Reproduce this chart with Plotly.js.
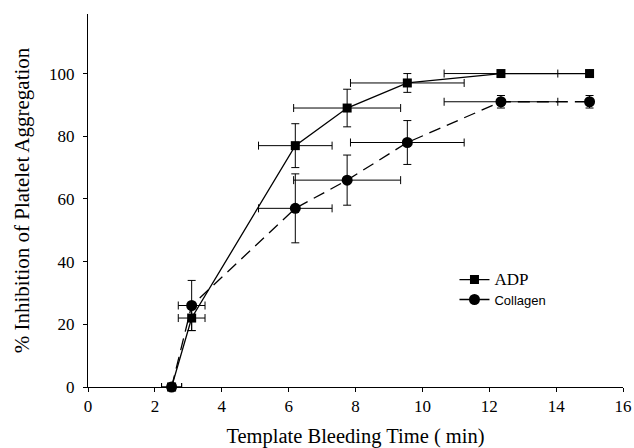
<!DOCTYPE html>
<html>
<head>
<meta charset="utf-8">
<script src="https://cdn.plot.ly/plotly-3.0.1.min.js"></script>
<style>html,body{margin:0;padding:0;background:#fff;}#chart{width:634px;height:448px;}</style>
</head>
<body>
<div id="chart"></div>
<script>
// Template bleeding time (min) and % inhibition
const adpX = [2.5, 3.1, 6.2, 7.75, 9.55, 12.35, 15.0];
const adpY = [0, 22, 77, 89, 97, 100, 100];
const adpXErr = [0.3, 0.4, 1.1, 1.6, 1.7, 1.7, 0];
const adpYErr = [0, 4, 7, 6, 3, 1, 1];

const colX = [2.5, 3.1, 6.2, 7.75, 9.55, 12.35, 15.0];
const colY = [0, 26, 57, 66, 78, 91, 91];
const colXErr = [0.3, 0.4, 1.1, 1.6, 1.7, 1.7, 0];
const colYErr = [0, 8, 11, 8, 7, 2, 2];

const xTicks = [0, 2, 4, 6, 8, 10, 12, 14, 16];
const yTicks = [0, 20, 40, 60, 80, 100];

const serif = "Liberation Serif, Times New Roman, serif";

const traces = [
  {
    x: adpX, y: adpY, name: '<span style="font-family:Liberation Serif;font-size:17px">ADP</span>',
    type: 'scatter', mode: 'lines+markers', cliponaxis: false,
    line: {color: '#000', width: 1.3},
    marker: {symbol: 'square', size: 9, color: '#000'},
    error_x: {type: 'data', array: adpXErr, visible: true, color: '#000', thickness: 1, width: 4},
    error_y: {type: 'data', array: adpYErr, visible: true, color: '#000', thickness: 1, width: 4}
  },
  {
    x: colX, y: colY, name: '<span style="font-family:Liberation Sans;font-size:13px">Collagen</span>',
    type: 'scatter', mode: 'lines+markers', cliponaxis: false,
    line: {color: '#000', width: 1.3, dash: '12px,7px'},
    marker: {symbol: 'circle', size: 11, color: '#000'},
    error_x: {type: 'data', array: colXErr, visible: true, color: '#000', thickness: 1, width: 4},
    error_y: {type: 'data', array: colYErr, visible: true, color: '#000', thickness: 1, width: 4}
  }
];

const layout = {
  width: 634, height: 448,
  margin: {l: 88, r: 11, t: 14, b: 61},
  paper_bgcolor: '#fff', plot_bgcolor: '#fff',
  font: {family: serif, color: '#000', size: 16},
  showlegend: true,
  legend: {x: 0.685, y: 0.328, xanchor: 'left', yanchor: 'top', bgcolor: 'rgba(0,0,0,0)',
           font: {family: serif, size: 13, color: '#000'}, tracegroupgap: 0},
  xaxis: {
    range: [0, 16], tickvals: xTicks, ticktext: xTicks.map(String),
    showgrid: false, zeroline: false, showline: true, linecolor: '#000', linewidth: 1,
    ticks: 'outside', ticklen: 4, tickcolor: '#000', tickfont: {family: serif, size: 17},
    title: {text: 'Template Bleeding Time ( min)', font: {family: serif, size: 20.5}, standoff: 14}
  },
  yaxis: {
    range: [0, 119], tickvals: yTicks, ticktext: yTicks.map(String),
    showgrid: false, zeroline: false, showline: true, linecolor: '#000', linewidth: 1,
    ticks: 'outside', ticklen: 4, tickcolor: '#000', tickfont: {family: serif, size: 17},
    ticklabelstandoff: 5,
    title: {text: '% Inhibition of Platelet Aggregation', font: {family: serif, size: 21}, standoff: 13}
  }
};

Plotly.newPlot('chart', traces, layout, {staticPlot: true, displayModeBar: false});
</script>
</body>
</html>
